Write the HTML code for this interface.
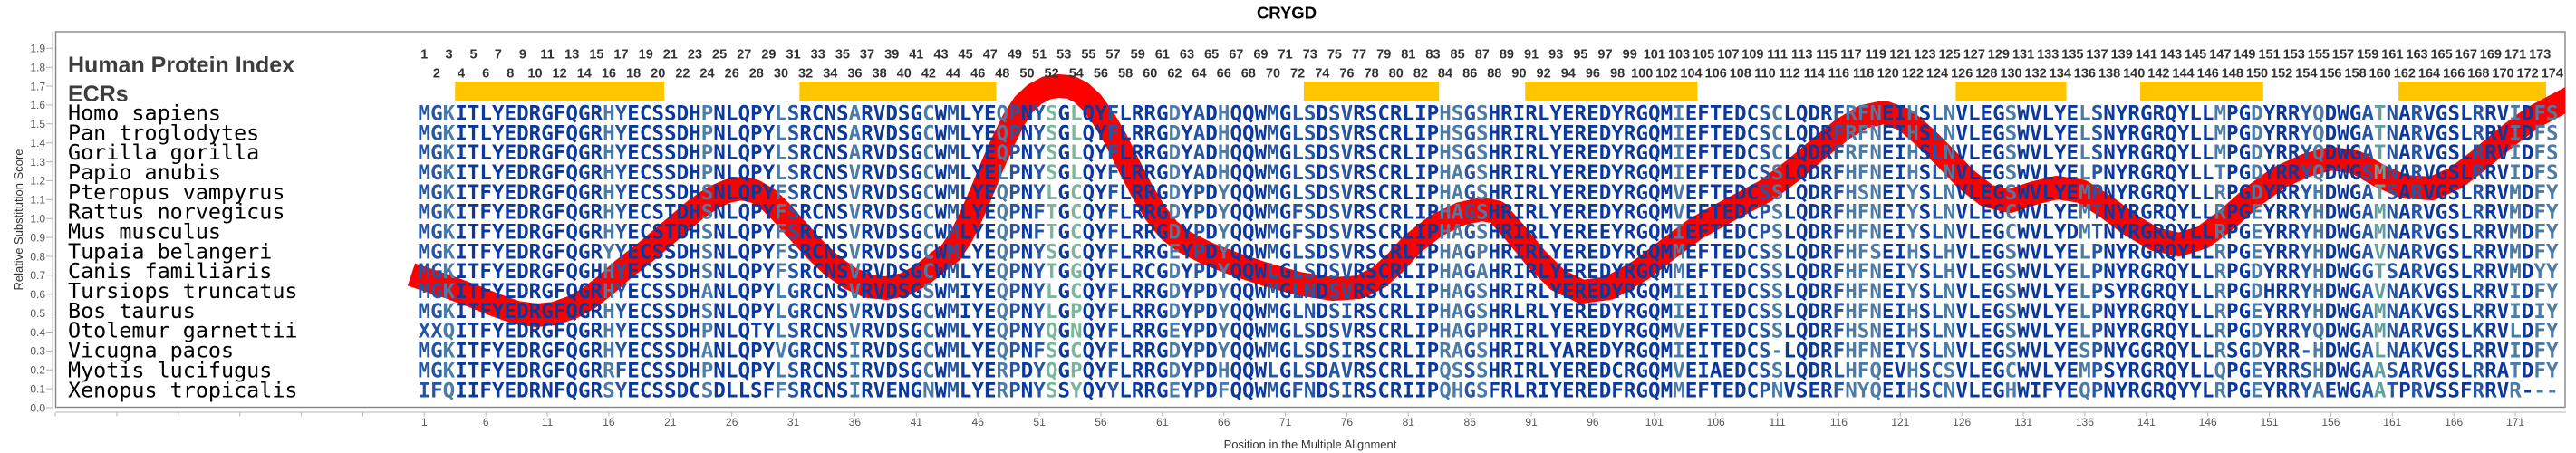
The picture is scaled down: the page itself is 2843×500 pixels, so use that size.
<!DOCTYPE html>
<html><head><meta charset="utf-8"><style>html,body{margin:0;padding:0;background:#fff;}svg{display:block;}</style></head>
<body>
<svg xmlns="http://www.w3.org/2000/svg" width="2843" height="500" viewBox="0 0 2843 500">
<defs>
<clipPath id="plot"><rect x="61.5" y="35" width="2769.5" height="414.5"/></clipPath>
<linearGradient id="cols" gradientUnits="userSpaceOnUse" x1="461.51" y1="0" x2="2823.56" y2="0">
<stop offset="0%" stop-color="#2655a3"/><stop offset="1.1494%" stop-color="#2655a3"/>
<stop offset="1.1494%" stop-color="#4b7ba7"/><stop offset="1.7241%" stop-color="#4b7ba7"/>
<stop offset="1.7241%" stop-color="#0a389d"/><stop offset="8.6207%" stop-color="#0a389d"/>
<stop offset="8.6207%" stop-color="#4b7ba7"/><stop offset="9.1954%" stop-color="#4b7ba7"/>
<stop offset="9.1954%" stop-color="#2655a3"/><stop offset="9.7701%" stop-color="#2655a3"/>
<stop offset="9.7701%" stop-color="#0a389d"/><stop offset="13.2184%" stop-color="#0a389d"/>
<stop offset="13.2184%" stop-color="#4b7ba7"/><stop offset="13.7931%" stop-color="#4b7ba7"/>
<stop offset="13.7931%" stop-color="#0a389d"/><stop offset="16.6667%" stop-color="#0a389d"/>
<stop offset="16.6667%" stop-color="#4b7ba7"/><stop offset="17.2414%" stop-color="#4b7ba7"/>
<stop offset="17.2414%" stop-color="#2655a3"/><stop offset="17.8161%" stop-color="#2655a3"/>
<stop offset="17.8161%" stop-color="#0a389d"/><stop offset="20.1149%" stop-color="#0a389d"/>
<stop offset="20.1149%" stop-color="#4b7ba7"/><stop offset="20.6897%" stop-color="#4b7ba7"/>
<stop offset="20.6897%" stop-color="#0a389d"/><stop offset="23.5632%" stop-color="#0a389d"/>
<stop offset="23.5632%" stop-color="#4b7ba7"/><stop offset="24.1379%" stop-color="#4b7ba7"/>
<stop offset="24.1379%" stop-color="#0a389d"/><stop offset="24.7126%" stop-color="#0a389d"/>
<stop offset="24.7126%" stop-color="#2655a3"/><stop offset="25.2874%" stop-color="#2655a3"/>
<stop offset="25.2874%" stop-color="#0a389d"/><stop offset="27.0115%" stop-color="#0a389d"/>
<stop offset="27.0115%" stop-color="#4b7ba7"/><stop offset="27.5862%" stop-color="#4b7ba7"/>
<stop offset="27.5862%" stop-color="#2655a3"/><stop offset="28.1609%" stop-color="#2655a3"/>
<stop offset="28.1609%" stop-color="#0a389d"/><stop offset="28.7356%" stop-color="#0a389d"/>
<stop offset="28.7356%" stop-color="#2655a3"/><stop offset="29.3103%" stop-color="#2655a3"/>
<stop offset="29.3103%" stop-color="#7ab59d"/><stop offset="29.8851%" stop-color="#7ab59d"/>
<stop offset="29.8851%" stop-color="#0a389d"/><stop offset="30.4598%" stop-color="#0a389d"/>
<stop offset="30.4598%" stop-color="#7ab59d"/><stop offset="31.0345%" stop-color="#7ab59d"/>
<stop offset="31.0345%" stop-color="#0a389d"/><stop offset="32.1839%" stop-color="#0a389d"/>
<stop offset="32.1839%" stop-color="#2655a3"/><stop offset="32.7586%" stop-color="#2655a3"/>
<stop offset="32.7586%" stop-color="#0a389d"/><stop offset="35.0575%" stop-color="#0a389d"/>
<stop offset="35.0575%" stop-color="#4b7ba7"/><stop offset="35.6322%" stop-color="#4b7ba7"/>
<stop offset="35.6322%" stop-color="#0a389d"/><stop offset="36.2069%" stop-color="#0a389d"/>
<stop offset="36.2069%" stop-color="#2655a3"/><stop offset="36.7816%" stop-color="#2655a3"/>
<stop offset="36.7816%" stop-color="#0a389d"/><stop offset="37.3563%" stop-color="#0a389d"/>
<stop offset="37.3563%" stop-color="#4b7ba7"/><stop offset="37.9310%" stop-color="#4b7ba7"/>
<stop offset="37.9310%" stop-color="#0a389d"/><stop offset="39.6552%" stop-color="#0a389d"/>
<stop offset="39.6552%" stop-color="#2655a3"/><stop offset="40.2299%" stop-color="#2655a3"/>
<stop offset="40.2299%" stop-color="#0a389d"/><stop offset="40.8046%" stop-color="#0a389d"/>
<stop offset="40.8046%" stop-color="#2655a3"/><stop offset="41.9540%" stop-color="#2655a3"/>
<stop offset="41.9540%" stop-color="#0a389d"/><stop offset="42.5287%" stop-color="#0a389d"/>
<stop offset="42.5287%" stop-color="#2655a3"/><stop offset="43.6782%" stop-color="#2655a3"/>
<stop offset="43.6782%" stop-color="#0a389d"/><stop offset="47.7011%" stop-color="#0a389d"/>
<stop offset="47.7011%" stop-color="#4b7ba7"/><stop offset="48.8506%" stop-color="#4b7ba7"/>
<stop offset="48.8506%" stop-color="#2655a3"/><stop offset="49.4253%" stop-color="#2655a3"/>
<stop offset="49.4253%" stop-color="#4b7ba7"/><stop offset="50%" stop-color="#4b7ba7"/>
<stop offset="50%" stop-color="#0a389d"/><stop offset="58.6207%" stop-color="#0a389d"/>
<stop offset="58.6207%" stop-color="#4b7ba7"/><stop offset="59.1954%" stop-color="#4b7ba7"/>
<stop offset="59.1954%" stop-color="#0a389d"/><stop offset="62.6437%" stop-color="#0a389d"/>
<stop offset="62.6437%" stop-color="#2655a3"/><stop offset="63.2184%" stop-color="#2655a3"/>
<stop offset="63.2184%" stop-color="#4b7ba7"/><stop offset="63.7931%" stop-color="#4b7ba7"/>
<stop offset="63.7931%" stop-color="#0a389d"/><stop offset="66.0920%" stop-color="#0a389d"/>
<stop offset="66.0920%" stop-color="#2655a3"/><stop offset="66.6667%" stop-color="#2655a3"/>
<stop offset="66.6667%" stop-color="#4b7ba7"/><stop offset="68.3908%" stop-color="#4b7ba7"/>
<stop offset="68.3908%" stop-color="#0a389d"/><stop offset="69.5402%" stop-color="#0a389d"/>
<stop offset="69.5402%" stop-color="#4b7ba7"/><stop offset="70.1149%" stop-color="#4b7ba7"/>
<stop offset="70.1149%" stop-color="#0a389d"/><stop offset="70.6897%" stop-color="#0a389d"/>
<stop offset="70.6897%" stop-color="#2655a3"/><stop offset="71.2644%" stop-color="#2655a3"/>
<stop offset="71.2644%" stop-color="#4b7ba7"/><stop offset="71.8391%" stop-color="#4b7ba7"/>
<stop offset="71.8391%" stop-color="#0a389d"/><stop offset="74.1379%" stop-color="#0a389d"/>
<stop offset="74.1379%" stop-color="#4b7ba7"/><stop offset="74.7126%" stop-color="#4b7ba7"/>
<stop offset="74.7126%" stop-color="#0a389d"/><stop offset="77.5862%" stop-color="#0a389d"/>
<stop offset="77.5862%" stop-color="#4b7ba7"/><stop offset="78.1609%" stop-color="#4b7ba7"/>
<stop offset="78.1609%" stop-color="#2655a3"/><stop offset="78.7356%" stop-color="#2655a3"/>
<stop offset="78.7356%" stop-color="#0a389d"/><stop offset="83.9080%" stop-color="#0a389d"/>
<stop offset="83.9080%" stop-color="#4b7ba7"/><stop offset="84.4828%" stop-color="#4b7ba7"/>
<stop offset="84.4828%" stop-color="#0a389d"/><stop offset="85.6322%" stop-color="#0a389d"/>
<stop offset="85.6322%" stop-color="#4b7ba7"/><stop offset="86.2069%" stop-color="#4b7ba7"/>
<stop offset="86.2069%" stop-color="#0a389d"/><stop offset="87.9310%" stop-color="#0a389d"/>
<stop offset="87.9310%" stop-color="#2655a3"/><stop offset="88.5057%" stop-color="#2655a3"/>
<stop offset="88.5057%" stop-color="#4b7ba7"/><stop offset="89.0805%" stop-color="#4b7ba7"/>
<stop offset="89.0805%" stop-color="#0a389d"/><stop offset="90.8046%" stop-color="#0a389d"/>
<stop offset="90.8046%" stop-color="#2655a3"/><stop offset="91.3793%" stop-color="#2655a3"/>
<stop offset="91.3793%" stop-color="#62a0a0"/><stop offset="91.9540%" stop-color="#62a0a0"/>
<stop offset="91.9540%" stop-color="#2655a3"/><stop offset="92.5287%" stop-color="#2655a3"/>
<stop offset="92.5287%" stop-color="#0a389d"/><stop offset="93.1034%" stop-color="#0a389d"/>
<stop offset="93.1034%" stop-color="#2655a3"/><stop offset="93.6782%" stop-color="#2655a3"/>
<stop offset="93.6782%" stop-color="#0a389d"/><stop offset="95.9770%" stop-color="#0a389d"/>
<stop offset="95.9770%" stop-color="#2655a3"/><stop offset="96.5517%" stop-color="#2655a3"/>
<stop offset="96.5517%" stop-color="#0a389d"/><stop offset="97.7011%" stop-color="#0a389d"/>
<stop offset="97.7011%" stop-color="#4b7ba7"/><stop offset="98.2759%" stop-color="#4b7ba7"/>
<stop offset="98.2759%" stop-color="#0a389d"/><stop offset="98.8506%" stop-color="#0a389d"/>
<stop offset="98.8506%" stop-color="#4b7ba7"/><stop offset="100%" stop-color="#4b7ba7"/>
</linearGradient>
</defs>

<rect x="0" y="0" width="2843" height="500" fill="#ffffff"/>

<!-- Title -->
<text x="1420" y="20.7" text-anchor="middle" font-family="Liberation Sans, sans-serif" font-weight="bold" font-size="18.5" fill="#000">CRYGD</text>

<!-- Y axis -->
<line x1="58" y1="35" x2="58" y2="450" stroke="#c4c4c4" stroke-width="1.2"/>
<path d="M51 450H58M51 429.1H58M51 408.2H58M51 387.4H58M51 366.5H58M51 345.6H58M51 324.7H58M51 303.8H58M51 283H58M51 262.1H58M51 241.2H58M51 220.3H58M51 199.4H58M51 178.6H58M51 157.7H58M51 136.8H58M51 115.9H58M51 95H58M51 74.2H58M51 53.3H58" stroke="#b4b4b4" stroke-width="1"/>
<g font-family="Liberation Sans, sans-serif" font-size="12" fill="#555" text-anchor="end">
<text x="50" y="454.3">0.0</text><text x="50" y="433.4">0.1</text><text x="50" y="412.5">0.2</text><text x="50" y="391.7">0.3</text><text x="50" y="370.8">0.4</text><text x="50" y="349.9">0.5</text><text x="50" y="329">0.6</text><text x="50" y="308.1">0.7</text><text x="50" y="287.3">0.8</text><text x="50" y="266.4">0.9</text><text x="50" y="245.5">1.0</text><text x="50" y="224.6">1.1</text><text x="50" y="203.7">1.2</text><text x="50" y="182.9">1.3</text><text x="50" y="162">1.4</text><text x="50" y="141.1">1.5</text><text x="50" y="120.2">1.6</text><text x="50" y="99.3">1.7</text><text x="50" y="78.5">1.8</text><text x="50" y="57.6">1.9</text>
</g>
<text transform="translate(25,242.5) rotate(-90)" text-anchor="middle" font-family="Liberation Sans, sans-serif" font-size="13" fill="#333">Relative Substitution Score</text>

<!-- X axis -->
<line x1="61.5" y1="455" x2="2832" y2="455" stroke="#c4c4c4" stroke-width="1.2"/>
<line x1="60.55" y1="457.5" x2="2777.1" y2="457.5" stroke="#b4b4b4" stroke-width="4" stroke-dasharray="1 66.875"/>
<g font-family="Liberation Sans, sans-serif" font-size="12" fill="#555" text-anchor="middle">
<text x="468.3" y="470">1</text><text x="536.2" y="470">6</text><text x="604.1" y="470">11</text><text x="671.9" y="470">16</text><text x="739.8" y="470">21</text><text x="807.7" y="470">26</text><text x="875.6" y="470">31</text><text x="943.4" y="470">36</text><text x="1011.3" y="470">41</text><text x="1079.2" y="470">46</text><text x="1147.1" y="470">51</text><text x="1214.9" y="470">56</text><text x="1282.8" y="470">61</text><text x="1350.7" y="470">66</text><text x="1418.6" y="470">71</text><text x="1486.4" y="470">76</text><text x="1554.3" y="470">81</text><text x="1622.2" y="470">86</text><text x="1690.1" y="470">91</text><text x="1757.9" y="470">96</text><text x="1825.8" y="470">101</text><text x="1893.7" y="470">106</text><text x="1961.6" y="470">111</text><text x="2029.4" y="470">116</text><text x="2097.3" y="470">121</text><text x="2165.2" y="470">126</text><text x="2233.1" y="470">131</text><text x="2300.9" y="470">136</text><text x="2368.8" y="470">141</text><text x="2436.7" y="470">146</text><text x="2504.6" y="470">151</text><text x="2572.4" y="470">156</text><text x="2640.3" y="470">161</text><text x="2708.2" y="470">166</text><text x="2776.1" y="470">171</text>
</g>
<text x="1446" y="495" text-anchor="middle" font-family="Liberation Sans, sans-serif" font-size="13" fill="#333">Position in the Multiple Alignment</text>

<!-- Plot frame -->
<rect x="61.5" y="35" width="2769.5" height="414.5" fill="none" stroke="#858585" stroke-width="1.4"/>

<!-- ECR bars -->
<g fill="#ffc600">
<rect x="502.24" y="90" width="230.78" height="21"/>
<rect x="882.34" y="90" width="217.2" height="21"/>
<rect x="1438.91" y="90" width="149.33" height="21"/>
<rect x="1683.26" y="90" width="190.05" height="21"/>
<rect x="2158.39" y="90" width="122.18" height="21"/>
<rect x="2362.01" y="90" width="135.75" height="21"/>
<rect x="2647.09" y="90" width="162.9" height="21"/>
</g>

<!-- Red score curve -->
<g clip-path="url(#plot)">
<polyline fill="none" stroke="#ff0000" stroke-width="26" stroke-linejoin="round" stroke-linecap="butt" points="454,303 475,310 496,317 520,326 545,336 570,345 592,348 612,346 632,339 650,329 668,315 687,298 714,277 741,254 768,231 787,218 803,211 818,208 833,211 848,220 862,234 878,252 898,274 918,293 938,307 958,316 978,318 998,314 1017,304 1034,290 1050,278 1062,259 1073,236 1085,208 1096,181 1108,154 1119,132 1130,115 1142,104 1155,97 1168,95 1181,96 1193,102 1205,113 1218,131 1231,153 1245,181 1260,210 1275,235 1290,254 1307,267 1333,280 1364,292 1394,302 1433,313 1471,319 1500,317 1522,306 1541,289 1558,270 1585,249 1612,236 1635,231 1652,234 1673,258 1696,286 1719,309 1746,322 1776,318 1811,298 1841,275 1872,252 1910,231 1948,211 1979,188 2006,165 2033,143 2056,129 2079,124 2102,132 2125,152 2148,175 2170,198 2193,216 2218,222 2245,213 2270,207 2297,211 2324,228 2351,248 2378,264 2405,270 2431,262 2458,242 2485,218 2515,196 2546,182 2573,175 2600,179 2626,194 2653,206 2684,208 2711,196 2737,176 2768,150 2795,130 2840,106"/>
</g>

<!-- Human protein index numbers -->
<g font-family="Liberation Sans, sans-serif" font-weight="bold" font-size="14.5" fill="#333" text-anchor="middle">
<text x="468.3" y="64.3">1</text><text x="495.5" y="64.3">3</text><text x="522.6" y="64.3">5</text><text x="549.8" y="64.3">7</text><text x="576.9" y="64.3">9</text><text x="604.1" y="64.3">11</text><text x="631.2" y="64.3">13</text><text x="658.4" y="64.3">15</text><text x="685.5" y="64.3">17</text><text x="712.7" y="64.3">19</text><text x="739.8" y="64.3">21</text><text x="767" y="64.3">23</text><text x="794.1" y="64.3">25</text><text x="821.3" y="64.3">27</text><text x="848.4" y="64.3">29</text><text x="875.6" y="64.3">31</text><text x="902.7" y="64.3">33</text><text x="929.9" y="64.3">35</text><text x="957" y="64.3">37</text><text x="984.2" y="64.3">39</text><text x="1011.3" y="64.3">41</text><text x="1038.5" y="64.3">43</text><text x="1065.6" y="64.3">45</text><text x="1092.8" y="64.3">47</text><text x="1119.9" y="64.3">49</text><text x="1147.1" y="64.3">51</text><text x="1174.2" y="64.3">53</text><text x="1201.4" y="64.3">55</text><text x="1228.5" y="64.3">57</text><text x="1255.7" y="64.3">59</text><text x="1282.8" y="64.3">61</text><text x="1310" y="64.3">63</text><text x="1337.1" y="64.3">65</text><text x="1364.3" y="64.3">67</text><text x="1391.4" y="64.3">69</text><text x="1418.6" y="64.3">71</text><text x="1445.7" y="64.3">73</text><text x="1472.9" y="64.3">75</text><text x="1500" y="64.3">77</text><text x="1527.2" y="64.3">79</text><text x="1554.3" y="64.3">81</text><text x="1581.5" y="64.3">83</text><text x="1608.6" y="64.3">85</text><text x="1635.8" y="64.3">87</text><text x="1662.9" y="64.3">89</text><text x="1690.1" y="64.3">91</text><text x="1717.2" y="64.3">93</text><text x="1744.4" y="64.3">95</text><text x="1771.5" y="64.3">97</text><text x="1798.7" y="64.3">99</text><text x="1825.8" y="64.3">101</text><text x="1853" y="64.3">103</text><text x="1880.1" y="64.3">105</text><text x="1907.3" y="64.3">107</text><text x="1934.4" y="64.3">109</text><text x="1961.6" y="64.3">111</text><text x="1988.7" y="64.3">113</text><text x="2015.9" y="64.3">115</text><text x="2043" y="64.3">117</text><text x="2070.2" y="64.3">119</text><text x="2097.3" y="64.3">121</text><text x="2124.5" y="64.3">123</text><text x="2151.6" y="64.3">125</text><text x="2178.8" y="64.3">127</text><text x="2205.9" y="64.3">129</text><text x="2233.1" y="64.3">131</text><text x="2260.2" y="64.3">133</text><text x="2287.4" y="64.3">135</text><text x="2314.5" y="64.3">137</text><text x="2341.7" y="64.3">139</text><text x="2368.8" y="64.3">141</text><text x="2396" y="64.3">143</text><text x="2423.1" y="64.3">145</text><text x="2450.3" y="64.3">147</text><text x="2477.4" y="64.3">149</text><text x="2504.6" y="64.3">151</text><text x="2531.7" y="64.3">153</text><text x="2558.9" y="64.3">155</text><text x="2586" y="64.3">157</text><text x="2613.2" y="64.3">159</text><text x="2640.3" y="64.3">161</text><text x="2667.5" y="64.3">163</text><text x="2694.6" y="64.3">165</text><text x="2721.8" y="64.3">167</text><text x="2748.9" y="64.3">169</text><text x="2776.1" y="64.3">171</text><text x="2803.2" y="64.3">173</text>
<text x="481.9" y="85.7">2</text><text x="509" y="85.7">4</text><text x="536.2" y="85.7">6</text><text x="563.3" y="85.7">8</text><text x="590.5" y="85.7">10</text><text x="617.6" y="85.7">12</text><text x="644.8" y="85.7">14</text><text x="671.9" y="85.7">16</text><text x="699.1" y="85.7">18</text><text x="726.2" y="85.7">20</text><text x="753.4" y="85.7">22</text><text x="780.5" y="85.7">24</text><text x="807.7" y="85.7">26</text><text x="834.8" y="85.7">28</text><text x="862" y="85.7">30</text><text x="889.1" y="85.7">32</text><text x="916.3" y="85.7">34</text><text x="943.4" y="85.7">36</text><text x="970.6" y="85.7">38</text><text x="997.7" y="85.7">40</text><text x="1024.9" y="85.7">42</text><text x="1052" y="85.7">44</text><text x="1079.2" y="85.7">46</text><text x="1106.3" y="85.7">48</text><text x="1133.5" y="85.7">50</text><text x="1160.6" y="85.7">52</text><text x="1187.8" y="85.7">54</text><text x="1214.9" y="85.7">56</text><text x="1242.1" y="85.7">58</text><text x="1269.2" y="85.7">60</text><text x="1296.4" y="85.7">62</text><text x="1323.5" y="85.7">64</text><text x="1350.7" y="85.7">66</text><text x="1377.8" y="85.7">68</text><text x="1405" y="85.7">70</text><text x="1432.1" y="85.7">72</text><text x="1459.3" y="85.7">74</text><text x="1486.4" y="85.7">76</text><text x="1513.6" y="85.7">78</text><text x="1540.7" y="85.7">80</text><text x="1567.9" y="85.7">82</text><text x="1595" y="85.7">84</text><text x="1622.2" y="85.7">86</text><text x="1649.3" y="85.7">88</text><text x="1676.5" y="85.7">90</text><text x="1703.6" y="85.7">92</text><text x="1730.8" y="85.7">94</text><text x="1757.9" y="85.7">96</text><text x="1785.1" y="85.7">98</text><text x="1812.2" y="85.7">100</text><text x="1839.4" y="85.7">102</text><text x="1866.5" y="85.7">104</text><text x="1893.7" y="85.7">106</text><text x="1920.8" y="85.7">108</text><text x="1948" y="85.7">110</text><text x="1975.1" y="85.7">112</text><text x="2002.3" y="85.7">114</text><text x="2029.4" y="85.7">116</text><text x="2056.6" y="85.7">118</text><text x="2083.7" y="85.7">120</text><text x="2110.9" y="85.7">122</text><text x="2138" y="85.7">124</text><text x="2165.2" y="85.7">126</text><text x="2192.3" y="85.7">128</text><text x="2219.5" y="85.7">130</text><text x="2246.6" y="85.7">132</text><text x="2273.8" y="85.7">134</text><text x="2300.9" y="85.7">136</text><text x="2328.1" y="85.7">138</text><text x="2355.2" y="85.7">140</text><text x="2382.4" y="85.7">142</text><text x="2409.5" y="85.7">144</text><text x="2436.7" y="85.7">146</text><text x="2463.8" y="85.7">148</text><text x="2491" y="85.7">150</text><text x="2518.1" y="85.7">152</text><text x="2545.3" y="85.7">154</text><text x="2572.4" y="85.7">156</text><text x="2599.6" y="85.7">158</text><text x="2626.7" y="85.7">160</text><text x="2653.9" y="85.7">162</text><text x="2681" y="85.7">164</text><text x="2708.2" y="85.7">166</text><text x="2735.3" y="85.7">168</text><text x="2762.5" y="85.7">170</text><text x="2789.6" y="85.7">172</text><text x="2816.8" y="85.7">174</text>
</g>

<!-- Row headers -->
<g font-family="Liberation Sans, sans-serif" font-weight="bold" font-size="25" fill="#3d3d3d">
<text x="75" y="80">Human Protein Index</text>
<text x="75" y="112">ECRs</text>
</g>

<!-- Species names -->
<g font-family="DejaVu Sans Mono, monospace" font-size="23.4" fill="#000">
<text x="75" y="132.5">Homo sapiens</text>
<text x="75" y="154.3">Pan troglodytes</text>
<text x="75" y="176.2">Gorilla gorilla</text>
<text x="75" y="198">Papio anubis</text>
<text x="75" y="219.9">Pteropus vampyrus</text>
<text x="75" y="241.7">Rattus norvegicus</text>
<text x="75" y="263.5">Mus musculus</text>
<text x="75" y="285.4">Tupaia belangeri</text>
<text x="75" y="307.2">Canis familiaris</text>
<text x="75" y="329.1">Tursiops truncatus</text>
<text x="75" y="350.9">Bos taurus</text>
<text x="75" y="372.7">Otolemur garnettii</text>
<text x="75" y="394.6">Vicugna pacos</text>
<text x="75" y="416.4">Myotis lucifugus</text>
<text x="75" y="438.3">Xenopus tropicalis</text>
</g>

<!-- Alignment -->
<g font-family="DejaVu Sans Mono, monospace" font-weight="bold" font-size="22.55" fill="url(#cols)">
<text x="461.51" y="132.5" textLength="2362.05" lengthAdjust="spacing">MGKITLYEDRGFQGRHYECSSDHPNLQPYLSRCNSARVDSGCWMLYEQPNYSGLQYFLRRGDYADHQQWMGLSDSVRSCRLIPHSGSHRIRLYEREDYRGQMIEFTEDCSCLQDRFRFNEIHSLNVLEGSWVLYELSNYRGRQYLLMPGDYRRYQDWGATNARVGSLRRVIDFS</text>
<text x="461.51" y="154.3" textLength="2362.05" lengthAdjust="spacing">MGKITLYEDRGFQGRHYECSSDHPNLQPYLSRCNSARVDSGCWMLYEQPNYSGLQYFLRRGDYADHQQWMGLSDSVRSCRLIPHSGSHRIRLYEREDYRGQMIEFTEDCSCLQDRFRFNEIHSLNVLEGSWVLYELSNYRGRQYLLMPGDYRRYQDWGATNARVGSLRRVIDFS</text>
<text x="461.51" y="176.2" textLength="2362.05" lengthAdjust="spacing">MGKITLYEDRGFQGRHYECSSDHPNLQPYLSRCNSARVDSGCWMLYEQPNYSGLQYFLRRGDYADHQQWMGLSDSVRSCRLIPHSGSHRIRLYEREDYRGQMIEFTEDCSCLQDRFRFNEIHSLNVLEGSWVLYELSNYRGRQYLLMPGDYRRYQDWGATNARVGSLRRVIDFS</text>
<text x="461.51" y="198" textLength="2362.05" lengthAdjust="spacing">MGKITLYEDRGFQGRHYECSSDHPNLQPYLSRCNSVRVDSGCWMLYELPNYSGLQYFLRRGDYADHQQWMGLSDSVRSCRLIPHAGSHRIRLYEREDYRGQMIEFTEDCSSLQDRFHFNEIHSLNVLEGSWVLYELPNYRGRQYLLTPGDYRRYQDWGSMNARVGSLRRVIDFS</text>
<text x="461.51" y="219.9" textLength="2362.05" lengthAdjust="spacing">MGKITFYEDRGFQGRHYECSSDHSNLQPYFSRCNSVRVDSGCWMLYEQPNYLGCQYFLRRGDYPDYQQWMGLSDSVRSCRLIPHAGSHRIRLYEREDYRGQMVEFTEDCSSLQDRFHSNEIYSLNVLEGSWVLYEMPNYRGRQYLLRPGDYRRYHDWGATSARVGSLRRVMDFY</text>
<text x="461.51" y="241.7" textLength="2362.05" lengthAdjust="spacing">MGKITFYEDRGFQGRHYECSTDHSNLQPYFSRCNSVRVDSGCWMLYEQPNFTGCQYFLRRGDYPDYQQWMGFSDSVRSCRLIPHAGSHRIRLYEREDYRGQMVEFTEDCPSLQDRFHFNEIYSLNVLEGCWVLYEMTNYRGRQYLLRPGEYRRYHDWGAMNARVGSLRRVMDFY</text>
<text x="461.51" y="263.5" textLength="2362.05" lengthAdjust="spacing">MGKITFYEDRGFQGRHYECSTDHSNLQPYFSRCNSVRVDSGCWMLYEQPNFTGCQYFLRRGDYPDYQQWMGFSDSVRSCRLIPHAGSHRIRLYEREEYRGQMIEFTEDCPSLQDRFHFNEIYSLNVLEGCWVLYDMTNYRGRQYLLRPGEYRRYHDWGAMNARVGSLRRVMDFY</text>
<text x="461.51" y="285.4" textLength="2362.05" lengthAdjust="spacing">MGKITFYEDRGFQGRYYECSSDHSNLQPYFSRCNSVRVDSGCWMLYEQPNYSGCQYFLRRGEYPDYQQWMGLSDSVRSCRLIPHAGPHRIRLYEREDYRGQMMEFTEDCSSLQDRFHFSEIHSLHVLEGSWVLYELPNYRGRQYLLRPGEYRRYHDWGAVNARVGSLRRVMDFY</text>
<text x="461.51" y="307.2" textLength="2362.05" lengthAdjust="spacing">MGKITFYEDRGFQGHHYECSSDHSNLQPYFSRCNSVRVDSGCWMLYEQPNYTGGQYFLRCGDYPDYQQWLGLSDSVRSCRLIPHAGAHRIRLYEREDYRGQMMEFTEDCSSLQDRFHFNEIYSLHVLEGSWVLYELPNYRGRQYLLRPGDYRRYHDWGGTSARVGSLRRVMDYY</text>
<text x="461.51" y="329.1" textLength="2362.05" lengthAdjust="spacing">MGKITFYEDRGFQGRHYECSSDHANLQPYLGRCNSVRVDSGSWMIYEQPNYLGCQYFLRRGDYPDYQQWMGLNDSVRSCRLIPHAGSHRIRLYEREDYRGQMIEITEDCSSLQDRFHFNEIYSLNVLEGSWVLYELPSYRGRQYLLRPGDHRRYHDWGAVNAKVGSLRRVIDFY</text>
<text x="461.51" y="350.9" textLength="2362.05" lengthAdjust="spacing">MGKITFYEDRGFQGRHYECSSDHSNLQPYLGRCNSVRVDSGCWMIYEQPNYLGPQYFLRRGDYPDYQQWMGLNDSIRSCRLIPHAGSHRLRLYEREDYRGQMIEITEDCSSLQDRFHFNEIHSLNVLEGSWVLYELPNYRGRQYLLRPGEYRRYHDWGAMNAKVGSLRRVIDIY</text>
<text x="461.51" y="372.7" textLength="2362.05" lengthAdjust="spacing">XXQITFYEDRGFQGRHYECSSDHPNLQTYLSRCNSVRVDSGCWMLYEQPNYQGNQYFLRRGEYPDYQQWMGLSDSVRSCRLIPHAGPHRIRLYEREDYRGQMVEFTEDCSSLQDRFHSNEIHSLNVLEGSWVLYELPNYRGRQYLLRPGDYRRYQDWGAMNARVGSLKRVLDFY</text>
<text x="461.51" y="394.6" textLength="2362.05" lengthAdjust="spacing">MGKITFYEDRGFQGRHYECSSDHANLQPYVGRCNSIRVDSGCWMLYEQPNFSGCQYFLRRGDYPDYQQWMGLSDSIRSCRLIPRAGSHRIRLYAREDYRGQMIEITEDCS-LQDRFHFNEIYSLNVLEGSWVLYESPNYGGRQYLLRSGDYRR-HDWGALNAKVGSLRRVIDFY</text>
<text x="461.51" y="416.4" textLength="2362.05" lengthAdjust="spacing">MGKITFYEDRGFQGRRFECSSDHPNLQPYLSRCNSIRVDSGCWMLYERPDYQGPQYFLRRGDYPDHQQWLGLSDAVRSCRLIPQSSSHRIRLYEREDCRGQMVEIAEDCSSLQDRLHFQEVHSCSVLEGCWVLYEMPSYRGRQYLLQPGEYRRSHDWGAASARVGSLRRATDFY</text>
<text x="461.51" y="438.3" textLength="2362.05" lengthAdjust="spacing">IFQIIFYEDRNFQGRSYECSSDCSDLLSFFSRCNSIRVENGNWMLYERPNYSSYQYYLRRGEYPDFQQWMGFNDSIRSCRIIPQHGSFRLRIYEREDFRGQMMEFTEDCPNVSERFNYQEIHSCNVLEGHWIFYEQPNYRGRQYYLRPGEYRRYAEWGAATPRVSSFRRVR---</text>
</g>
</svg>
</body></html>
